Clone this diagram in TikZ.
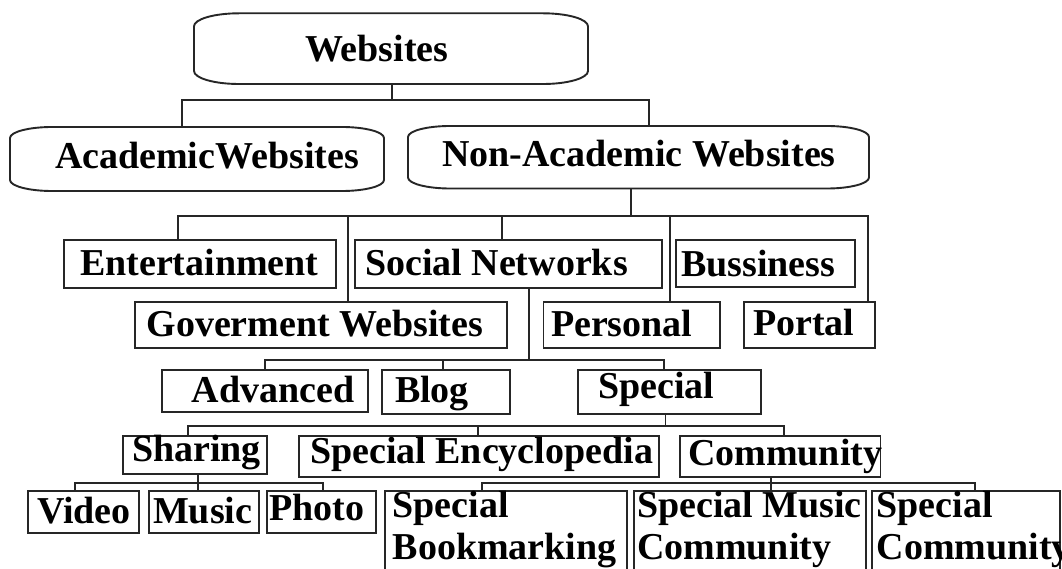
\documentclass[tikz,border=0pt]{standalone}
\usepackage{fontspec}
\setmainfont{Liberation Serif}
\usetikzlibrary{calc}

\tikzset{
  line/.style={draw=black!85, line width=1.9pt, line join=miter},
  box/.style={line, rectangle, inner sep=0pt, outer sep=0pt, anchor=north west},
  hold/.style={rectangle, inner sep=0pt, outer sep=0pt, anchor=north west},
  lbl/.style={inner sep=0pt, outer sep=0pt, anchor=base west, align=left,
    font=\fontsize{38}{42}\selectfont\bfseries},
}

% rectangular box from its top-left (x0,y0) to its bottom-right (x1,y1)
\newcommand\rectbox[5]{%
  \node[box, minimum width={#4-#2}, minimum height={#5-#3}] (#1) at (#2,#3) {};}
% node area for a rounded "terminator" outline
\newcommand\capbox[5]{%
  \node[hold, minimum width={#4-#2}, minimum height={#5-#3}] (#1) at (#2,#3) {};}
% terminator outline with elliptic corners (rx,ry) round a named node
\newcommand\capoutline[3]{%
  \draw[line]
    ($(#1.north west)+(#2,0)$) -- ($(#1.north east)+(-#2,0)$)
    .. controls ($(#1.north east)+(-0.45*#2,0)$) and ($(#1.north east)+(0,0.45*#3)$) .. ($(#1.north east)+(0,#3)$)
    -- ($(#1.south east)+(0,-#3)$)
    .. controls ($(#1.south east)+(0,-0.45*#3)$) and ($(#1.south east)+(-0.45*#2,0)$) .. ($(#1.south east)+(-#2,0)$)
    -- ($(#1.south west)+(#2,0)$)
    .. controls ($(#1.south west)+(0.45*#2,0)$) and ($(#1.south west)+(0,-0.45*#3)$) .. ($(#1.south west)+(0,-#3)$)
    -- ($(#1.north west)+(0,#3)$)
    .. controls ($(#1.north west)+(0,0.45*#3)$) and ($(#1.north west)+(0.45*#2,0)$) .. cycle;}

\begin{document}
\begin{tikzpicture}[x=1pt, y=-1pt]
  \useasboundingbox (0,0) rectangle (1062,569);
  \fill[white] (0,0) rectangle (1062,569);
  \clip (0,0) rectangle (1062,569);

  % ---- boxes ----
  \capbox{web}{194}{13.3}{588}{84}
  \capbox{aca}{10}{127}{384}{191}
  \capbox{non}{408}{126}{869}{188.5}
  \capoutline{web}{45}{13}
  \capoutline{aca}{42}{11}
  \capoutline{non}{42}{11}

  \rectbox{ent}{64}{240}{336}{288}
  \rectbox{soc}{355}{240}{662}{288}
  \rectbox{bus}{676}{240}{855}{287}
  \rectbox{gov}{135}{302}{507}{348}
  \rectbox{per}{543.5}{302}{720}{348}
  \rectbox{por}{744}{302}{875}{348}

  \rectbox{adv}{161.7}{370}{367.7}{412}
  \rectbox{blog}{381.7}{370}{510}{414}
  \rectbox{spe}{577.7}{370}{760.7}{414}

  \rectbox{sha}{123}{436}{267.3}{474}
  \rectbox{enc}{299}{436}{659}{476.7}
  \rectbox{com}{680}{436}{880.5}{476.7}

  \rectbox{vid}{28}{491}{139}{533}
  \rectbox{mus}{149}{491}{259}{533}
  \rectbox{pho}{267}{491}{376}{533}
  \rectbox{sbm}{385}{491}{626.7}{620}
  \rectbox{smc}{634}{491}{866}{620}
  \rectbox{sco}{871.7}{491}{1060}{620}

  % ---- texts (two-line texts are placed by their last baseline) ----
  \node[lbl] (web-t) at (305,61.7) {Websites};
  \node[lbl] (aca-t) at (55,168.3) {AcademicWebsites};
  \node[lbl] (non-t) at (442,166.7) {Non-Academic Websites};
  \node[lbl] (ent-t) at (80,275) {Entertainment};
  \node[lbl] (soc-t) at (365,275) {Social Networks};
  \node[lbl] (bus-t) at (681,276.7) {Bussiness};
  \node[lbl] (gov-t) at (146.5,336.7) {Goverment Websites};
  \node[lbl] (per-t) at (551,336) {Personal};
  \node[lbl] (por-t) at (753,335) {Portal};
  \node[lbl] (adv-t) at (191.7,402.3) {Advanced};
  \node[lbl] (blog-t) at (395,402) {Blog};
  \node[lbl] (spe-t) at (598,398.3) {Special};
  \node[lbl] (sha-t) at (132,461.7) {Sharing};
  \node[lbl] (enc-t) at (310,463.3) {Special Encyclopedia};
  \node[lbl] (com-t) at (688,465) {Community};
  \node[lbl] (vid-t) at (37,523) {Video};
  \node[lbl] (mus-t) at (153,523) {Music};
  \node[lbl] (pho-t) at (269,520) {Photo};
  \node[lbl] (sbm-t) at (392.7,559.5) {Special\\Bookmarking};
  \node[lbl] (smc-t) at (637,559) {Special Music\\Community};
  \node[lbl] (sco-t) at (876.7,559) {Special\\Community};

  % ---- connectors (parent -> bus -> child) ----
  \coordinate (b0) at (0,100);
  \draw[line] (web.south -| 391.7,0) -- (b0 -| 391.7,0) -| (aca.north -| 181.7,0);
  \draw[line] (web.south -| 391.7,0) -- (b0 -| 391.7,0) -| (non.north -| 648.6,0);

  \coordinate (b1) at (0,215.7);
  \draw[line] (non.south -| 631.3,0) -- (b1 -| 631.3,0) -| (ent.north -| 177.6,0);
  \draw[line] (non.south -| 631.3,0) -- (b1 -| 631.3,0) -| (gov.north -| 347.6,0);
  \draw[line] (non.south -| 631.3,0) -- (b1 -| 631.3,0) -| (soc.north -| 502.4,0);
  \draw[line] (non.south -| 631.3,0) -- (b1 -| 631.3,0) -| (per.north -| 669.6,0);
  \draw[line] (non.south -| 631.3,0) -- (b1 -| 631.3,0) -| (por.north -| 868.4,0);

  \coordinate (b2) at (0,360);
  \draw[line] (soc.south -| 529.3,0) -- (b2 -| 529.3,0) -| (adv.north -| 265,0);
  \draw[line] (soc.south -| 529.3,0) -- (b2 -| 529.3,0) -| (blog.north -| 443.3,0);
  \draw[line] (soc.south -| 529.3,0) -- (b2 -| 529.3,0) -| (spe.north -| 664.3,0);

  \coordinate (b3) at (0,425.7);
  \draw[line] (spe.south -| 665.5,0) -- (b3 -| 665.5,0) -| (sha.north -| 187.7,0);
  \draw[line] (spe.south -| 665.5,0) -- (b3 -| 665.5,0) -| (enc.north -| 477.7,0);
  \draw[line] (spe.south -| 665.5,0) -- (b3 -| 665.5,0) -| (com.north -| 784.3,0);

  \coordinate (b4) at (0,482.7);
  \draw[line] (sha.south -| 197.7,0) -- (b4 -| 197.7,0) -| (vid.north -| 75,0);
  \draw[line] (sha.south -| 197.7,0) -- (mus.north -| 197.7,0);
  \draw[line] (sha.south -| 197.7,0) -- (b4 -| 197.7,0) -| (pho.north -| 323,0);

  \draw[line] (com.south -| 770.7,0) -- (b4 -| 770.7,0) -| (sbm.north -| 481.7,0);
  \draw[line] (com.south -| 770.7,0) -- (smc.north -| 770.7,0);
  \draw[line] (com.south -| 770.7,0) -- (b4 -| 770.7,0) -| (sco.north -| 975,0);
\end{tikzpicture}
\end{document}
